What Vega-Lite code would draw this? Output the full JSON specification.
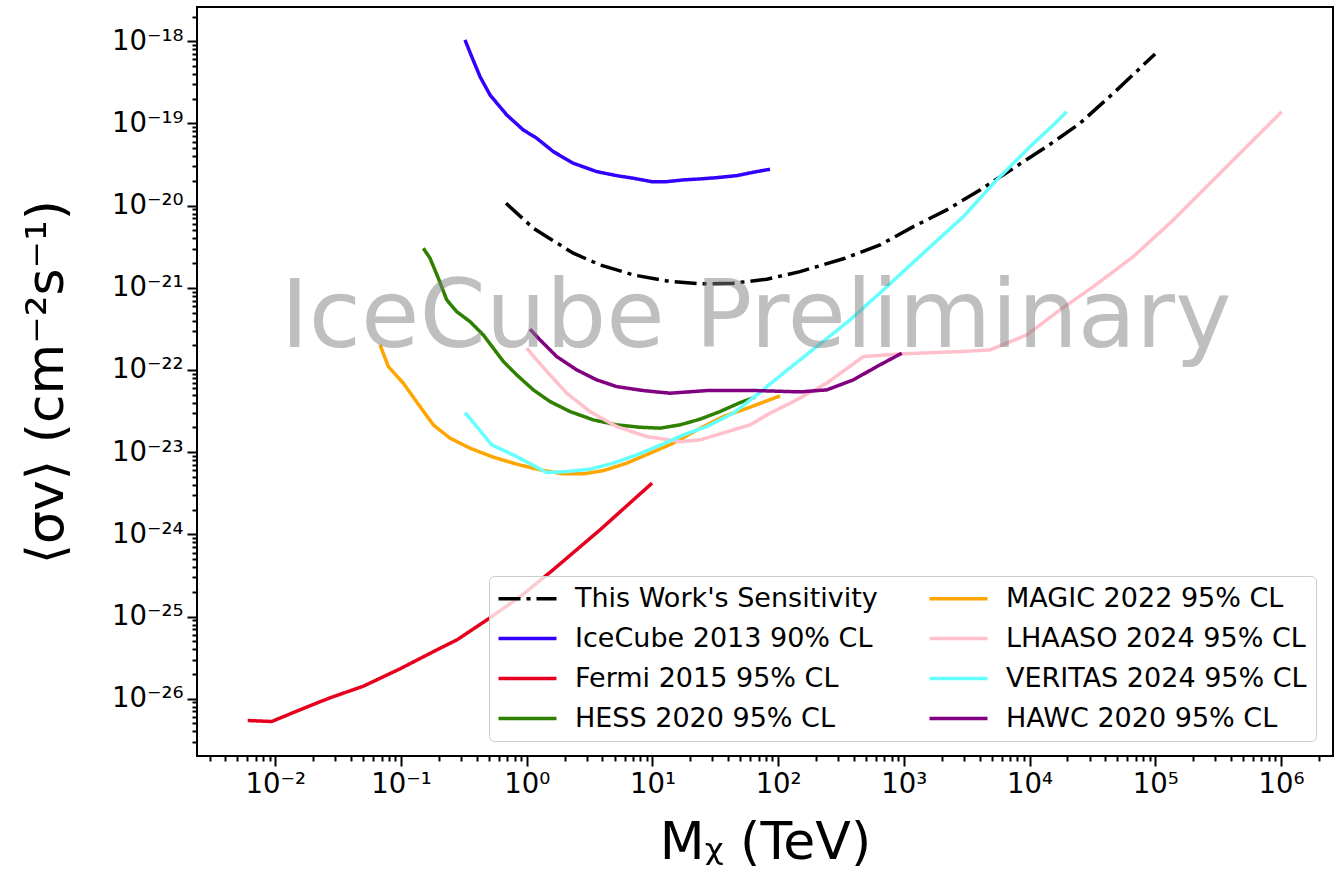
{
  "$schema": "https://vega.github.io/schema/vega-lite/v6.json",
  "autosize": {"type": "none"},
  "padding": {"left": 197, "top": 7, "right": 7, "bottom": 125},
  "width": 1136,
  "height": 749,
  "background": "white",
  "config": {
    "font": "DejaVu Sans",
    "view": {"stroke": "black", "strokeWidth": 2},
    "axis": {"grid": false, "domain": false, "tickColor": "black", "tickWidth": 2, "labelColor": "black", "titleColor": "black", "labelFont": "DejaVu Sans", "titleFont": "DejaVu Sans", "labelFontSize": 27.5, "titleFontSize": 52, "titleFontWeight": "normal", "labelFlush": false, "labelOverlap": false}
  },
  "datasets": {
    "curves": [
      {"s": "This Work's Sensitivity", "x": 0.6845, "y": 1.069e-20},
      {"s": "This Work's Sensitivity", "x": 1.128, "y": 5.31e-21},
      {"s": "This Work's Sensitivity", "x": 2.348, "y": 2.636e-21},
      {"s": "This Work's Sensitivity", "x": 3.83, "y": 1.9e-21},
      {"s": "This Work's Sensitivity", "x": 7.047, "y": 1.435e-21},
      {"s": "This Work's Sensitivity", "x": 12.99, "y": 1.213e-21},
      {"s": "This Work's Sensitivity", "x": 23.91, "y": 1.115e-21},
      {"s": "This Work's Sensitivity", "x": 44.0, "y": 1.138e-21},
      {"s": "This Work's Sensitivity", "x": 81.2, "y": 1.272e-21},
      {"s": "This Work's Sensitivity", "x": 149.4, "y": 1.574e-21},
      {"s": "This Work's Sensitivity", "x": 340.6, "y": 2.291e-21},
      {"s": "This Work's Sensitivity", "x": 646.6, "y": 3.327e-21},
      {"s": "This Work's Sensitivity", "x": 1190, "y": 5.55e-21},
      {"s": "This Work's Sensitivity", "x": 2194, "y": 8.865e-21},
      {"s": "This Work's Sensitivity", "x": 4039, "y": 1.552e-20},
      {"s": "This Work's Sensitivity", "x": 7431, "y": 2.851e-20},
      {"s": "This Work's Sensitivity", "x": 13700, "y": 5.22e-20},
      {"s": "This Work's Sensitivity", "x": 25220, "y": 1.006e-19},
      {"s": "This Work's Sensitivity", "x": 46420, "y": 2.33e-19},
      {"s": "This Work's Sensitivity", "x": 99630, "y": 7.006e-19},

      {"s": "IceCube 2013 90% CL", "x": 0.3229, "y": 1.037e-18},
      {"s": "IceCube 2013 90% CL", "x": 0.3651, "y": 6.5e-19},
      {"s": "IceCube 2013 90% CL", "x": 0.4251, "y": 3.71e-19},
      {"s": "IceCube 2013 90% CL", "x": 0.5105, "y": 2.22e-19},
      {"s": "IceCube 2013 90% CL", "x": 0.6935, "y": 1.269e-19},
      {"s": "IceCube 2013 90% CL", "x": 0.9396, "y": 8.33e-20},
      {"s": "IceCube 2013 90% CL", "x": 1.201, "y": 6.61e-20},
      {"s": "IceCube 2013 90% CL", "x": 1.628, "y": 4.54e-20},
      {"s": "IceCube 2013 90% CL", "x": 2.348, "y": 3.28e-20},
      {"s": "IceCube 2013 90% CL", "x": 3.605, "y": 2.593e-20},
      {"s": "IceCube 2013 90% CL", "x": 5.2, "y": 2.317e-20},
      {"s": "IceCube 2013 90% CL", "x": 7.047, "y": 2.154e-20},
      {"s": "IceCube 2013 90% CL", "x": 9.87, "y": 1.959e-20},
      {"s": "IceCube 2013 90% CL", "x": 12.99, "y": 1.959e-20},
      {"s": "IceCube 2013 90% CL", "x": 17.61, "y": 2.055e-20},
      {"s": "IceCube 2013 90% CL", "x": 23.91, "y": 2.113e-20},
      {"s": "IceCube 2013 90% CL", "x": 32.48, "y": 2.19e-20},
      {"s": "IceCube 2013 90% CL", "x": 46.84, "y": 2.317e-20},
      {"s": "IceCube 2013 90% CL", "x": 63.5, "y": 2.549e-20},
      {"s": "IceCube 2013 90% CL", "x": 86.2, "y": 2.772e-20},

      {"s": "Fermi 2015 95% CL", "x": 0.006033, "y": 5.43e-27},
      {"s": "Fermi 2015 95% CL", "x": 0.009363, "y": 5.28e-27},
      {"s": "Fermi 2015 95% CL", "x": 0.01572, "y": 7.33e-27},
      {"s": "Fermi 2015 95% CL", "x": 0.02723, "y": 1.026e-26},
      {"s": "Fermi 2015 95% CL", "x": 0.04985, "y": 1.415e-26},
      {"s": "Fermi 2015 95% CL", "x": 0.09817, "y": 2.31e-26},
      {"s": "Fermi 2015 95% CL", "x": 0.1934, "y": 3.94e-26},
      {"s": "Fermi 2015 95% CL", "x": 0.279, "y": 5.21e-26},
      {"s": "Fermi 2015 95% CL", "x": 0.4832, "y": 9.12e-26},
      {"s": "Fermi 2015 95% CL", "x": 0.8845, "y": 1.738e-25},
      {"s": "Fermi 2015 95% CL", "x": 1.619, "y": 3.7e-25},
      {"s": "Fermi 2015 95% CL", "x": 3.83, "y": 1.135e-24},
      {"s": "Fermi 2015 95% CL", "x": 9.93, "y": 4.2e-24},

      {"s": "HESS 2020 95% CL", "x": 0.1505, "y": 3.03e-21},
      {"s": "HESS 2020 95% CL", "x": 0.1701, "y": 2.29e-21},
      {"s": "HESS 2020 95% CL", "x": 0.198, "y": 1.31e-21},
      {"s": "HESS 2020 95% CL", "x": 0.231, "y": 7.13e-22},
      {"s": "HESS 2020 95% CL", "x": 0.2774, "y": 5.13e-22},
      {"s": "HESS 2020 95% CL", "x": 0.3538, "y": 3.88e-22},
      {"s": "HESS 2020 95% CL", "x": 0.4516, "y": 2.67e-22},
      {"s": "HESS 2020 95% CL", "x": 0.5424, "y": 1.84e-22},
      {"s": "HESS 2020 95% CL", "x": 0.6515, "y": 1.27e-22},
      {"s": "HESS 2020 95% CL", "x": 0.8325, "y": 8.72e-23},
      {"s": "HESS 2020 95% CL", "x": 1.128, "y": 5.73e-23},
      {"s": "HESS 2020 95% CL", "x": 1.532, "y": 4.13e-23},
      {"s": "HESS 2020 95% CL", "x": 2.211, "y": 3.12e-23},
      {"s": "HESS 2020 95% CL", "x": 3.387, "y": 2.47e-23},
      {"s": "HESS 2020 95% CL", "x": 5.2, "y": 2.15e-23},
      {"s": "HESS 2020 95% CL", "x": 7.967, "y": 2.01e-23},
      {"s": "HESS 2020 95% CL", "x": 11.49, "y": 1.96e-23},
      {"s": "HESS 2020 95% CL", "x": 16.58, "y": 2.15e-23},
      {"s": "HESS 2020 95% CL", "x": 23.91, "y": 2.52e-23},
      {"s": "HESS 2020 95% CL", "x": 34.49, "y": 3.12e-23},
      {"s": "HESS 2020 95% CL", "x": 49.77, "y": 4.01e-23},
      {"s": "HESS 2020 95% CL", "x": 65.5, "y": 4.67e-23},

      {"s": "MAGIC 2022 95% CL", "x": 0.06808, "y": 2.02e-22},
      {"s": "MAGIC 2022 95% CL", "x": 0.07925, "y": 1.1e-22},
      {"s": "MAGIC 2022 95% CL", "x": 0.1043, "y": 6.91e-23},
      {"s": "MAGIC 2022 95% CL", "x": 0.1416, "y": 3.586e-23},
      {"s": "MAGIC 2022 95% CL", "x": 0.1807, "y": 2.148e-23},
      {"s": "MAGIC 2022 95% CL", "x": 0.2454, "y": 1.48e-23},
      {"s": "MAGIC 2022 95% CL", "x": 0.3538, "y": 1.119e-23},
      {"s": "MAGIC 2022 95% CL", "x": 0.5424, "y": 8.69e-24},
      {"s": "MAGIC 2022 95% CL", "x": 0.8325, "y": 7.145e-24},
      {"s": "MAGIC 2022 95% CL", "x": 1.276, "y": 6.09e-24},
      {"s": "MAGIC 2022 95% CL", "x": 1.955, "y": 5.445e-24},
      {"s": "MAGIC 2022 95% CL", "x": 2.82, "y": 5.445e-24},
      {"s": "MAGIC 2022 95% CL", "x": 4.068, "y": 5.97e-24},
      {"s": "MAGIC 2022 95% CL", "x": 6.247, "y": 7.35e-24},
      {"s": "MAGIC 2022 95% CL", "x": 9.57, "y": 9.72e-24},
      {"s": "MAGIC 2022 95% CL", "x": 14.67, "y": 1.287e-23},
      {"s": "MAGIC 2022 95% CL", "x": 23.91, "y": 1.95e-23},
      {"s": "MAGIC 2022 95% CL", "x": 36.65, "y": 2.71e-23},
      {"s": "MAGIC 2022 95% CL", "x": 59.77, "y": 3.527e-23},
      {"s": "MAGIC 2022 95% CL", "x": 103.5, "y": 4.84e-23},

      {"s": "LHAASO 2024 95% CL", "x": 1.0, "y": 1.842e-22},
      {"s": "LHAASO 2024 95% CL", "x": 1.201, "y": 1.327e-22},
      {"s": "LHAASO 2024 95% CL", "x": 1.532, "y": 8.718e-23},
      {"s": "LHAASO 2024 95% CL", "x": 2.081, "y": 5.22e-23},
      {"s": "LHAASO 2024 95% CL", "x": 3.189, "y": 3.119e-23},
      {"s": "LHAASO 2024 95% CL", "x": 5.2, "y": 2.048e-23},
      {"s": "LHAASO 2024 95% CL", "x": 9.01, "y": 1.548e-23},
      {"s": "LHAASO 2024 95% CL", "x": 16.58, "y": 1.345e-23},
      {"s": "LHAASO 2024 95% CL", "x": 23.91, "y": 1.411e-23},
      {"s": "LHAASO 2024 95% CL", "x": 59.77, "y": 2.148e-23},
      {"s": "LHAASO 2024 95% CL", "x": 86.2, "y": 2.982e-23},
      {"s": "LHAASO 2024 95% CL", "x": 132.1, "y": 4.125e-23},
      {"s": "LHAASO 2024 95% CL", "x": 243.6, "y": 6.91e-23},
      {"s": "LHAASO 2024 95% CL", "x": 476.1, "y": 1.455e-22},
      {"s": "LHAASO 2024 95% CL", "x": 932.8, "y": 1.57e-22},
      {"s": "LHAASO 2024 95% CL", "x": 2800, "y": 1.674e-22},
      {"s": "LHAASO 2024 95% CL", "x": 4851, "y": 1.756e-22},
      {"s": "LHAASO 2024 95% CL", "x": 9500, "y": 2.673e-22},
      {"s": "LHAASO 2024 95% CL", "x": 17480, "y": 5.383e-22},
      {"s": "LHAASO 2024 95% CL", "x": 32180, "y": 1.034e-21},
      {"s": "LHAASO 2024 95% CL", "x": 66960, "y": 2.396e-21},
      {"s": "LHAASO 2024 95% CL", "x": 139300, "y": 6.7e-21},
      {"s": "LHAASO 2024 95% CL", "x": 213800, "y": 1.29e-20},
      {"s": "LHAASO 2024 95% CL", "x": 472800, "y": 4.34e-20},
      {"s": "LHAASO 2024 95% CL", "x": 1015000, "y": 1.392e-19},

      {"s": "VERITAS 2024 95% CL", "x": 0.3229, "y": 3.033e-23},
      {"s": "VERITAS 2024 95% CL", "x": 0.4002, "y": 2.048e-23},
      {"s": "VERITAS 2024 95% CL", "x": 0.5266, "y": 1.227e-23},
      {"s": "VERITAS 2024 95% CL", "x": 0.8325, "y": 8.84e-24},
      {"s": "VERITAS 2024 95% CL", "x": 1.442, "y": 5.646e-24},
      {"s": "VERITAS 2024 95% CL", "x": 2.081, "y": 5.81e-24},
      {"s": "VERITAS 2024 95% CL", "x": 3.189, "y": 6.21e-24},
      {"s": "VERITAS 2024 95% CL", "x": 4.886, "y": 7.35e-24},
      {"s": "VERITAS 2024 95% CL", "x": 7.502, "y": 9.27e-24},
      {"s": "VERITAS 2024 95% CL", "x": 12.21, "y": 1.262e-23},
      {"s": "VERITAS 2024 95% CL", "x": 17.61, "y": 1.623e-23},
      {"s": "VERITAS 2024 95% CL", "x": 27.04, "y": 2.048e-23},
      {"s": "VERITAS 2024 95% CL", "x": 44.0, "y": 2.982e-23},
      {"s": "VERITAS 2024 95% CL", "x": 67.56, "y": 4.98e-23},
      {"s": "VERITAS 2024 95% CL", "x": 110.0, "y": 9.14e-23},
      {"s": "VERITAS 2024 95% CL", "x": 202.8, "y": 1.926e-22},
      {"s": "VERITAS 2024 95% CL", "x": 373.3, "y": 4.07e-22},
      {"s": "VERITAS 2024 95% CL", "x": 686.9, "y": 9.43e-22},
      {"s": "VERITAS 2024 95% CL", "x": 1521, "y": 2.89e-21},
      {"s": "VERITAS 2024 95% CL", "x": 2974, "y": 7.346e-21},
      {"s": "VERITAS 2024 95% CL", "x": 5483, "y": 2.055e-20},
      {"s": "VERITAS 2024 95% CL", "x": 10090, "y": 5.22e-20},
      {"s": "VERITAS 2024 95% CL", "x": 15460, "y": 9.59e-20},
      {"s": "VERITAS 2024 95% CL", "x": 19770, "y": 1.392e-19},

      {"s": "HAWC 2020 95% CL", "x": 1.062, "y": 3.136e-22},
      {"s": "HAWC 2020 95% CL", "x": 1.276, "y": 2.323e-22},
      {"s": "HAWC 2020 95% CL", "x": 1.733, "y": 1.455e-22},
      {"s": "HAWC 2020 95% CL", "x": 2.499, "y": 1.003e-22},
      {"s": "HAWC 2020 95% CL", "x": 3.605, "y": 7.577e-23},
      {"s": "HAWC 2020 95% CL", "x": 5.2, "y": 6.28e-23},
      {"s": "HAWC 2020 95% CL", "x": 8.464, "y": 5.615e-23},
      {"s": "HAWC 2020 95% CL", "x": 13.8, "y": 5.22e-23},
      {"s": "HAWC 2020 95% CL", "x": 27.04, "y": 5.615e-23},
      {"s": "HAWC 2020 95% CL", "x": 67.56, "y": 5.615e-23},
      {"s": "HAWC 2020 95% CL", "x": 149.4, "y": 5.415e-23},
      {"s": "HAWC 2020 95% CL", "x": 243.6, "y": 5.728e-23},
      {"s": "HAWC 2020 95% CL", "x": 396.6, "y": 7.577e-23},
      {"s": "HAWC 2020 95% CL", "x": 608.7, "y": 1.1e-22},
      {"s": "HAWC 2020 95% CL", "x": 962.3, "y": 1.601e-22}
    ],
    "watermark": [
      {"label": "IceCube Preliminary", "x": 66.7, "y": 1.91e-22}
    ]
  },
  "layer": [
    {
      "data": {"name": "curves"},
      "mark": {"type": "line", "strokeWidth": 3.5, "strokeCap": "butt", "clip": true},
      "encoding": {
        "x": {
          "field": "x", "type": "quantitative",
          "scale": {"type": "log", "domain": [0.002382, 2594000], "nice": false},
          "axis": {
            "title": "Mᵪ (TeV)",
            "titlePadding": 20,
            "labelPadding": 4,
            "values": [0.003,0.004,0.005,0.006,0.007,0.008,0.009,
              0.01,0.02,0.03,0.04,0.05,0.06,0.07,0.08,0.09,
              0.1,0.2,0.3,0.4,0.5,0.6,0.7,0.8,0.9,
              1,2,3,4,5,6,7,8,9,
              10,20,30,40,50,60,70,80,90,
              100,200,300,400,500,600,700,800,900,
              1000,2000,3000,4000,5000,6000,7000,8000,9000,
              10000,20000,30000,40000,50000,60000,70000,80000,90000,
              100000,200000,300000,400000,500000,600000,700000,800000,900000,
              1000000,2000000],
            "tickSize": {"condition": {"test": "abs(log(datum.value)/LN10 - round(log(datum.value)/LN10)) < 0.001", "value": 10}, "value": 5},
            "labelExpr": "abs(log(datum.value)/LN10 - round(log(datum.value)/LN10)) > 0.001 ? '' : '10' + (round(log(datum.value)/LN10) < 0 ? '⁻' : '') + (abs(round(log(datum.value)/LN10)) >= 10 ? ['⁰','¹','²','³','⁴','⁵','⁶','⁷','⁸','⁹'][floor(abs(round(log(datum.value)/LN10))/10)] : '') + ['⁰','¹','²','³','⁴','⁵','⁶','⁷','⁸','⁹'][abs(round(log(datum.value)/LN10)) % 10]"
          }
        },
        "y": {
          "field": "y", "type": "quantitative",
          "scale": {"type": "log", "domain": [2.009e-27, 2.612e-18], "nice": false},
          "axis": {
            "title": "⟨σv⟩ (cm⁻²s⁻¹)",
            "titlePadding": 38,
            "labelPadding": 4,
            "values": [3e-27,4e-27,5e-27,6e-27,7e-27,8e-27,9e-27,
              1e-26,2e-26,3e-26,4e-26,5e-26,6e-26,7e-26,8e-26,9e-26,
              1e-25,2e-25,3e-25,4e-25,5e-25,6e-25,7e-25,8e-25,9e-25,
              1e-24,2e-24,3e-24,4e-24,5e-24,6e-24,7e-24,8e-24,9e-24,
              1e-23,2e-23,3e-23,4e-23,5e-23,6e-23,7e-23,8e-23,9e-23,
              1e-22,2e-22,3e-22,4e-22,5e-22,6e-22,7e-22,8e-22,9e-22,
              1e-21,2e-21,3e-21,4e-21,5e-21,6e-21,7e-21,8e-21,9e-21,
              1e-20,2e-20,3e-20,4e-20,5e-20,6e-20,7e-20,8e-20,9e-20,
              1e-19,2e-19,3e-19,4e-19,5e-19,6e-19,7e-19,8e-19,9e-19,
              1e-18,2e-18],
            "tickSize": {"condition": {"test": "abs(log(datum.value)/LN10 - round(log(datum.value)/LN10)) < 0.001", "value": 10}, "value": 5},
            "labelExpr": "abs(log(datum.value)/LN10 - round(log(datum.value)/LN10)) > 0.001 ? '' : '10' + (round(log(datum.value)/LN10) < 0 ? '⁻' : '') + (abs(round(log(datum.value)/LN10)) >= 10 ? ['⁰','¹','²','³','⁴','⁵','⁶','⁷','⁸','⁹'][floor(abs(round(log(datum.value)/LN10))/10)] : '') + ['⁰','¹','²','³','⁴','⁵','⁶','⁷','⁸','⁹'][abs(round(log(datum.value)/LN10)) % 10]"
          }
        },
        "color": {
          "field": "s", "type": "nominal",
          "scale": {
            "domain": ["This Work's Sensitivity", "IceCube 2013 90% CL", "Fermi 2015 95% CL", "HESS 2020 95% CL", "MAGIC 2022 95% CL", "LHAASO 2024 95% CL", "VERITAS 2024 95% CL", "HAWC 2020 95% CL"],
            "range": ["#000000", "#3300ff", "#e6001e", "#2f7f00", "#ffa500", "#ffc0cb", "#66ffff", "#800080"]
          },
          "legend": {
            "title": null,
            "orient": "none",
            "legendX": 292,
            "legendY": 569,
            "columns": 2,
            "columnPadding": 44,
            "rowPadding": 12,
            "padding": 9,
            "symbolType": "M-2.9,0L2.9,0",
            "symbolSize": 400,
            "symbolOffset": 16,
            "symbolStrokeWidth": 3.5,
            "labelFont": "DejaVu Sans",
            "labelFontSize": 27,
            "labelColor": "black",
            "labelOffset": 34,
            "labelLimit": 500,
            "fillColor": "rgba(255,255,255,0.8)",
            "strokeColor": "#cccccc",
            "cornerRadius": 5
          }
        },
        "strokeDash": {
          "field": "s", "type": "nominal",
          "scale": {
            "domain": ["This Work's Sensitivity", "IceCube 2013 90% CL", "Fermi 2015 95% CL", "HESS 2020 95% CL", "MAGIC 2022 95% CL", "LHAASO 2024 95% CL", "VERITAS 2024 95% CL", "HAWC 2020 95% CL"],
            "range": [[22, 6, 4, 6], [1, 0], [1, 0], [1, 0], [1, 0], [1, 0], [1, 0], [1, 0]]
          },
          "legend": {
            "title": null,
            "orient": "none",
            "legendX": 292,
            "legendY": 569,
            "columns": 2,
            "columnPadding": 44,
            "rowPadding": 12,
            "padding": 9,
            "symbolType": "M-2.9,0L2.9,0",
            "symbolSize": 400,
            "symbolOffset": 16,
            "symbolStrokeWidth": 3.5,
            "labelFont": "DejaVu Sans",
            "labelFontSize": 27,
            "labelColor": "black",
            "labelOffset": 34,
            "labelLimit": 500,
            "fillColor": "rgba(255,255,255,0.8)",
            "strokeColor": "#cccccc",
            "cornerRadius": 5
          }
        }
      }
    },
    {
      "data": {"name": "watermark"},
      "mark": {"type": "text", "font": "DejaVu Sans", "fontSize": 95, "fill": "#808080", "opacity": 0.5, "align": "center", "baseline": "alphabetic"},
      "encoding": {
        "x": {"field": "x", "type": "quantitative"},
        "y": {"field": "y", "type": "quantitative"},
        "text": {"field": "label"}
      }
    }
  ]
}
